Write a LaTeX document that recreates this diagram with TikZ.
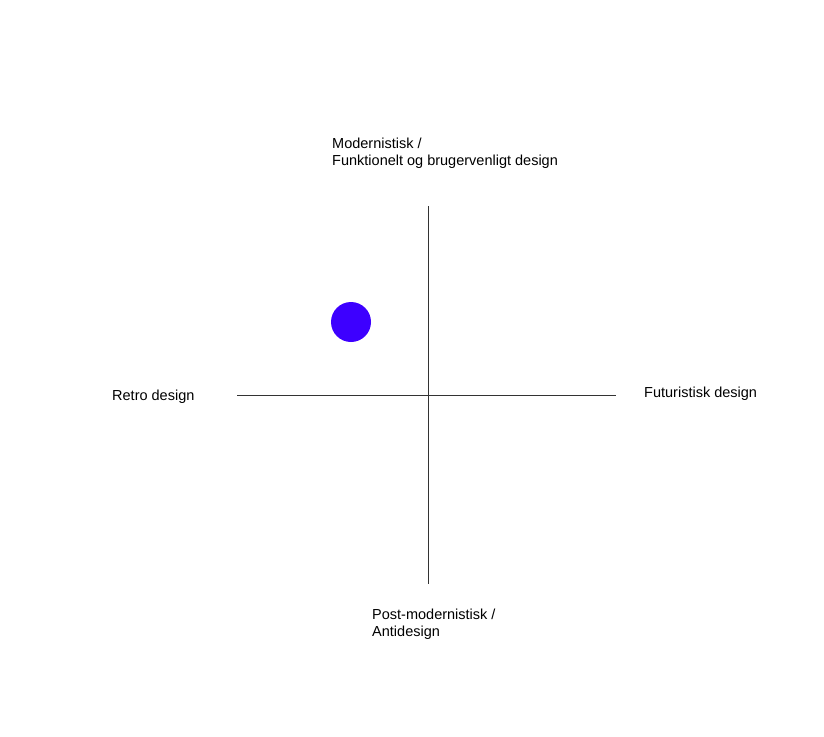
\documentclass[tikz,border=0pt]{standalone}
\usepackage{fontspec}
\setmainfont{Liberation Sans}
\usepackage{tikz}
\definecolor{dotblue}{RGB}{61,0,255}

\begin{document}
\begin{tikzpicture}[x=1pt, y=-1pt,
    lbl/.style={anchor=base west, inner sep=0pt, align=left,
      font=\fontsize{14.5}{17}\selectfont},
    axis/.style={black!80, line width=0.8pt}]
    \useasboundingbox (0,0) rectangle (824,736);

    % axes
    \coordinate (top) at (428,206);
    \coordinate (bottom) at (428,584);
    \coordinate (left) at (237,395);
    \coordinate (right) at (616,395);
    \draw[axis] (top) -- (bottom);
    \draw[axis] (left) -- (right);

    % labels at the ends (base = last line)
    \node[lbl] (modern) at (332,165) {Modernistisk /\\Funktionelt og brugervenligt design};
    \node[lbl] (retro) at (112,400) {Retro design};
    \node[lbl] (futur) at (644,397) {Futuristisk design};
    \node[lbl] (postmod) at (372,636) {Post-modernistisk /\\Antidesign};

    % placement
    \fill[dotblue] (351,322) circle (20);
\end{tikzpicture}
\end{document}
